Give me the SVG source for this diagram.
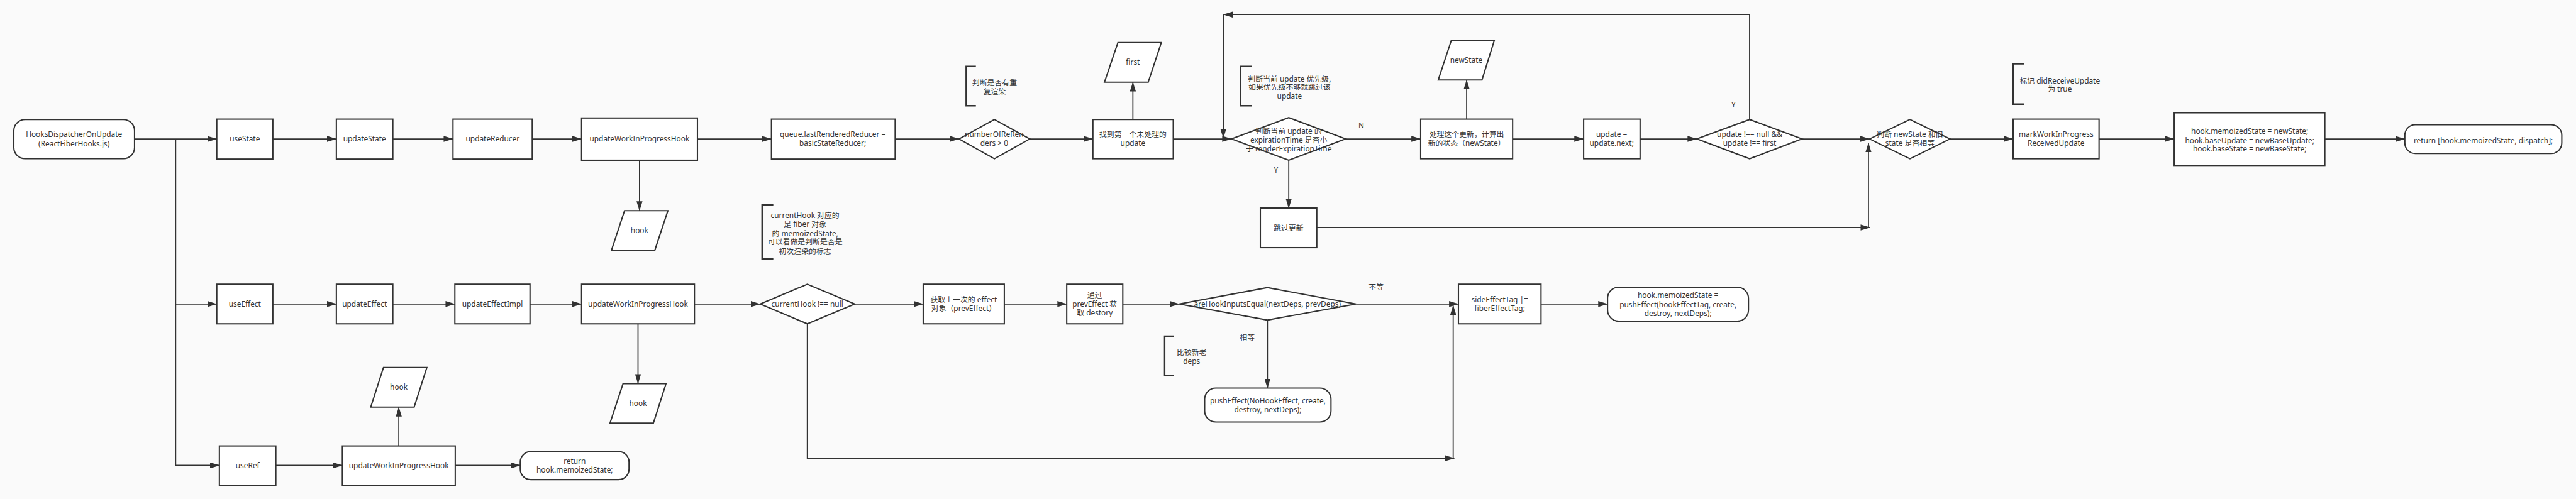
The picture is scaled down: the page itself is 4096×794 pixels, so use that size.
<svg xmlns="http://www.w3.org/2000/svg" width="4096" height="794" viewBox="0 0 4096 794">
<defs>
<style>
.n{fill:#fff;stroke:#323232;stroke-width:3.5}
.t{font-family:"Noto Sans","Noto Sans CJK SC",sans-serif;font-size:20px;fill:#333;text-anchor:middle}
.c{fill:none;stroke:#323232;stroke-width:3;marker-end:url(#ah)}
.p{fill:none;stroke:#323232;stroke-width:3}
.b{fill:none;stroke:#323232;stroke-width:4}
</style>
<marker id="ah" markerUnits="userSpaceOnUse" markerWidth="26" markerHeight="16" refX="25" refY="8" orient="auto">
<path d="M0,0 L26,8 L0,16 Z" fill="#323232"/>
</marker>
</defs>
<rect x="0" y="0" width="4096" height="794" fill="#fafafa"/>
<g transform="scale(0.59431)">

<g id="connectors">
<path class="c" d="M360,372 H580"/>
<path class="c" d="M470,372 V1246 H587"/>
<path class="c" d="M470,814 H580"/>
<path class="c" d="M730,372 H900"/>
<path class="c" d="M1051,372 H1212"/>
<path class="c" d="M1424,372 H1556"/>
<path class="c" d="M1866,372 H2064"/>
<path class="c" d="M2395,372 H2566"/>
<path class="c" d="M2755,372 H2924"/>
<path class="c" d="M3139,372 H3295"/>
<path class="c" d="M3600,372 H3801"/>
<path class="c" d="M4047,372 H4237"/>
<path class="c" d="M4388,372 H4540"/>
<path class="c" d="M4821,372 H5002"/>
<path class="c" d="M5217,372 H5386"/>
<path class="c" d="M5616,372 H5817"/>
<path class="c" d="M6220,372 H6434"/>
<path class="c" d="M1711,429 V564"/>
<path class="c" d="M3031,320 V220"/>
<path class="c" d="M3924,319 V214"/>
<path class="c" d="M3448,429 V557"/>
<path class="c" d="M4681,320 V39 H3273"/>
<path class="c" d="M3273,39 V370"/>
<path class="c" d="M3523,609 H5003"/>
<path class="c" d="M4999,609 V383"/>
<path class="c" d="M730,814 H900"/>
<path class="c" d="M1051,814 H1217"/>
<path class="c" d="M1418,814 H1556"/>
<path class="c" d="M1858,814 H2034"/>
<path class="c" d="M2287,814 H2470"/>
<path class="c" d="M2687,814 H2854"/>
<path class="c" d="M3004,814 H3155"/>
<path class="c" d="M3628,814 H3902"/>
<path class="c" d="M4123,814 H4301"/>
<path class="c" d="M1707,867 V1027"/>
<path class="c" d="M3391,857 V1039"/>
<path class="c" d="M2160,867 V1227 H3891"/>
<path class="c" d="M3888,1227 V818"/>
<path class="c" d="M738,1246 H916"/>
<path class="c" d="M1218,1246 H1392"/>
<path class="c" d="M1067,1194 V1090"/>
<text class="t" x="3642" y="343">N</text>
<text class="t" x="3414" y="463">Y</text>
<text class="t" x="4638" y="287">Y</text>
<text class="t" x="3337" y="911">相等</text>
<text class="t" x="3682" y="776">不等</text>
</g>

<g id="n-dispatcher"><rect class="n" x="37" y="320" width="323" height="105" rx="30"/><text class="t" x="198" y="367">HooksDispatcherOnUpdate</text><text class="t" x="198" y="392">(ReactFiberHooks.js)</text></g>
<g id="n-useState"><rect class="n" x="580" y="319" width="150" height="107"/><text class="t" x="655" y="379">useState</text></g>
<g id="n-updateState"><rect class="n" x="900" y="319" width="151" height="107"/><text class="t" x="975.5" y="379">updateState</text></g>
<g id="n-updateReducer"><rect class="n" x="1212" y="319" width="212" height="107"/><text class="t" x="1318" y="379">updateReducer</text></g>
<g id="n-wip1"><rect class="n" x="1556" y="316" width="310" height="113"/><text class="t" x="1711" y="379">updateWorkInProgressHook</text></g>
<g id="n-hook1"><polygon class="n" points="1671,564 1787,564 1752,670 1636,670"/><text class="t" x="1711" y="624">hook</text></g>
<g id="n-queue"><rect class="n" x="2064" y="319" width="331" height="107"/><text class="t" x="2228" y="367">queue.lastRenderedReducer =</text><text class="t" x="2228" y="391">basicStateReducer;</text></g>
<g id="n-rerenders"><polygon class="n" points="2566,372 2660.5,320 2755,372 2660.5,425"/><text class="t" x="2660" y="367">numberOfReRen</text><text class="t" x="2660" y="391">ders &gt; 0</text></g>
<g id="n-find"><rect class="n" x="2924" y="320" width="215" height="105"/><text class="t" x="3031" y="367">找到第一个未处理的</text><text class="t" x="3031" y="391">update</text></g>
<g id="n-first"><polygon class="n" points="2991,114 3107,114 3072,220 2955,220"/><text class="t" x="3031" y="174">first</text></g>
<g id="n-expiration"><polygon class="n" points="3295,372 3448,315 3600,372 3448,429"/><text class="t" x="3448" y="358">判断当前 update 的</text><text class="t" x="3448" y="382">expirationTime 是否小</text><text class="t" x="3448" y="406">于 renderExpirationTime</text></g>
<g id="n-process"><rect class="n" x="3801" y="319" width="246" height="106"/><text class="t" x="3924" y="367">处理这个更新，计算出</text><text class="t" x="3924" y="391">新的状态（newState）</text></g>
<g id="n-newState"><polygon class="n" points="3883,108 3998,108 3965,214 3848,214"/><text class="t" x="3923" y="168">newState</text></g>
<g id="n-next"><rect class="n" x="4237" y="319" width="151" height="106"/><text class="t" x="4312" y="367">update =</text><text class="t" x="4312" y="391">update.next;</text></g>
<g id="n-notnull"><polygon class="n" points="4540,372 4681,320 4821,372 4681,425"/><text class="t" x="4681" y="367">update !== null &amp;&amp;</text><text class="t" x="4681" y="391">update !== first</text></g>
<g id="n-equal"><polygon class="n" points="5002,372 5110,320 5217,372 5110,425"/><text class="t" x="5110" y="367">判断 newState 和旧</text><text class="t" x="5110" y="391">state 是否相等</text></g>
<g id="n-mark"><rect class="n" x="5386" y="319" width="230" height="106"/><text class="t" x="5501" y="367">markWorkInProgress</text><text class="t" x="5501" y="391">ReceivedUpdate</text></g>
<g id="n-hookstate"><rect class="n" x="5817" y="302" width="403" height="141"/><text class="t" x="6019" y="359">hook.memoizedState = newState;</text><text class="t" x="6019" y="383">hook.baseUpdate = newBaseUpdate;</text><text class="t" x="6019" y="406">hook.baseState = newBaseState;</text></g>
<g id="n-return"><rect class="n" x="6434" y="334" width="420" height="77" rx="28"/><text class="t" x="6644" y="383">return [hook.memoizedState, dispatch];</text></g>
<g id="n-skip"><rect class="n" x="3372" y="557" width="151" height="106"/><text class="t" x="3447.5" y="617">跳过更新</text></g>

<g id="a-currentHook"><path class="b" d="M2069,549 H2039 V693 H2069"/><text class="t" x="2154" y="584">currentHook 对应的</text><text class="t" x="2154" y="608">是 fiber 对象</text><text class="t" x="2154" y="632">的 memoizedState,</text><text class="t" x="2154" y="655">可以看做是判断是否是</text><text class="t" x="2154" y="680">初次渲染的标志</text></g>
<g id="a-rerender"><path class="b" d="M2611,178 H2585 V283 H2611"/><text class="t" x="2661" y="229">判断是否有重</text><text class="t" x="2661" y="252">复渲染</text></g>
<g id="a-priority"><path class="b" d="M3349,178 H3319 V283 H3349"/><text class="t" x="3450" y="218">判断当前 update 优先级,</text><text class="t" x="3450" y="241">如果优先级不够就跳过该</text><text class="t" x="3450" y="265">update</text></g>
<g id="a-didReceive"><path class="b" d="M5416,171 H5386 V279 H5416"/><text class="t" x="5511" y="223">标记 didReceiveUpdate</text><text class="t" x="5511" y="246">为 true</text></g>
<g id="a-deps"><path class="b" d="M3141,900 H3116 V1006 H3141"/><text class="t" x="3188" y="950">比较新老</text><text class="t" x="3188" y="974">deps</text></g>

<g id="n-useEffect"><rect class="n" x="580" y="761" width="150" height="106"/><text class="t" x="655" y="821">useEffect</text></g>
<g id="n-updateEffect"><rect class="n" x="900" y="761" width="151" height="106"/><text class="t" x="975.5" y="821">updateEffect</text></g>
<g id="n-updateEffectImpl"><rect class="n" x="1217" y="761" width="201" height="106"/><text class="t" x="1317.5" y="821">updateEffectImpl</text></g>
<g id="n-wip2"><rect class="n" x="1556" y="761" width="302" height="106"/><text class="t" x="1707" y="821">updateWorkInProgressHook</text></g>
<g id="n-hook2"><polygon class="n" points="1667,1027 1782,1027 1748,1133 1632,1133"/><text class="t" x="1707" y="1087">hook</text></g>
<g id="n-currentHook"><polygon class="n" points="2034,814 2160,761 2287,814 2160,867"/><text class="t" x="2160" y="821">currentHook !== null</text></g>
<g id="n-prevEffect"><rect class="n" x="2470" y="761" width="217" height="106"/><text class="t" x="2578.5" y="809">获取上一次的 effect</text><text class="t" x="2578.5" y="833">对象（prevEffect）</text></g>
<g id="n-destroy"><rect class="n" x="2854" y="761" width="150" height="106"/><text class="t" x="2929" y="797">通过</text><text class="t" x="2929" y="821">prevEffect 获</text><text class="t" x="2929" y="845">取 destory</text></g>
<g id="n-inputsEqual"><polygon class="n" points="3155,814 3391,770 3628,814 3391,857"/><text class="t" x="3391" y="821">areHookInputsEqual(nextDeps, prevDeps)</text></g>
<g id="n-pushNoHook"><rect class="n" x="3223" y="1039" width="338" height="91" rx="30"/><text class="t" x="3392" y="1080">pushEffect(NoHookEffect, create,</text><text class="t" x="3392" y="1104">destroy, nextDeps);</text></g>
<g id="n-sideEffect"><rect class="n" x="3902" y="761" width="221" height="106"/><text class="t" x="4012.5" y="809">sideEffectTag |=</text><text class="t" x="4012.5" y="833">fiberEffectTag;</text></g>
<g id="n-pushHook"><rect class="n" x="4301" y="769" width="377" height="91" rx="30"/><text class="t" x="4489.5" y="798">hook.memoizedState =</text><text class="t" x="4489.5" y="822">pushEffect(hookEffectTag, create,</text><text class="t" x="4489.5" y="846">destroy, nextDeps);</text></g>

<g id="n-useRef"><rect class="n" x="587" y="1194" width="151" height="106"/><text class="t" x="662.5" y="1254">useRef</text></g>
<g id="n-wip3"><rect class="n" x="916" y="1194" width="302" height="106"/><text class="t" x="1067" y="1254">updateWorkInProgressHook</text></g>
<g id="n-hook3"><polygon class="n" points="1026,984 1142,984 1108,1090 992,1090"/><text class="t" x="1067" y="1044">hook</text></g>
<g id="n-returnRef"><rect class="n" x="1392" y="1209" width="291" height="75" rx="28"/><text class="t" x="1537.5" y="1241">return</text><text class="t" x="1537.5" y="1265">hook.memoizedState;</text></g>
</g>
</svg>
